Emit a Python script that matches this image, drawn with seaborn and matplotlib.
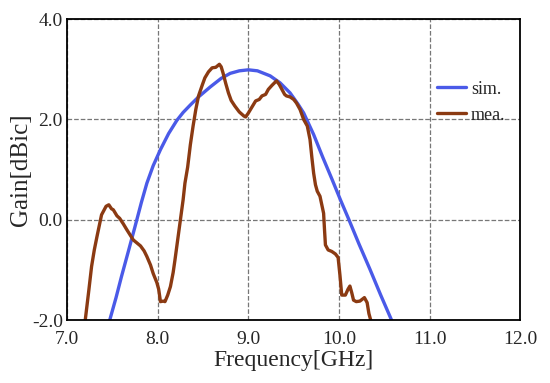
import pandas as pd
import matplotlib
matplotlib.use('Agg')
import matplotlib.pyplot as plt
import seaborn as sns

SIM_COLOR = '#4a5ae8'
MEA_COLOR = '#8b3a12'

# simulated gain
sim_freq = [7.47, 7.54, 7.60, 7.68, 7.75, 7.82, 7.88, 7.95, 8.03, 8.12, 8.21, 8.28,
            8.36, 8.45, 8.58, 8.70, 8.80, 8.90, 9.00, 9.10, 9.24, 9.35, 9.46, 9.55, 9.61,
            9.72, 9.82, 9.92, 10.02, 10.11, 10.22, 10.34, 10.46, 10.58]
sim_gain = [-2.0, -1.55, -1.13, -0.60, -0.13, 0.35, 0.73, 1.08, 1.40, 1.72, 1.98, 2.14,
            2.29, 2.45, 2.65, 2.82, 2.92, 2.97, 2.99, 2.97, 2.87, 2.73, 2.53, 2.30, 2.13,
            1.70, 1.25, 0.82, 0.38, 0.0, -0.48, -0.98, -1.50, -2.0]

# measured gain
mea_freq = [7.20, 7.24, 7.27, 7.30, 7.33, 7.38, 7.43, 7.46, 7.49, 7.51, 7.55, 7.58,
            7.62, 7.66, 7.73, 7.77, 7.81, 7.85, 7.88, 7.92, 7.95, 7.99, 8.01, 8.03,
            8.06, 8.08, 8.11, 8.14, 8.17, 8.19, 8.22, 8.25, 8.28, 8.30, 8.33, 8.36,
            8.39, 8.42, 8.45, 8.49, 8.52, 8.56, 8.60, 8.64, 8.68, 8.70, 8.72, 8.75,
            8.78, 8.81, 8.85, 8.90, 8.95, 8.97, 9.00, 9.04, 9.08, 9.12, 9.15, 9.19,
            9.22, 9.26, 9.31, 9.34, 9.37, 9.40, 9.42, 9.46, 9.50, 9.53, 9.57, 9.61,
            9.65, 9.68, 9.70, 9.72, 9.74, 9.76, 9.79, 9.81, 9.83, 9.84, 9.85, 9.88,
            9.92, 9.96, 9.99, 10.01, 10.03, 10.07, 10.10, 10.12, 10.14, 10.16, 10.19,
            10.23, 10.28, 10.31, 10.33, 10.35]
mea_gain = [-2.0, -1.4, -0.93, -0.6, -0.33, 0.10, 0.27, 0.30, 0.22, 0.20, 0.08, 0.03,
            -0.08, -0.20, -0.40, -0.46, -0.52, -0.62, -0.73, -0.90, -1.07, -1.25, -1.38, -1.63,
            -1.62, -1.63, -1.50, -1.33, -1.05, -0.80, -0.40, 0.0, 0.40, 0.73, 1.05, 1.50,
            1.87, 2.20, 2.47, 2.68, 2.83, 2.95, 3.03, 3.04, 3.10, 3.05, 2.93, 2.72,
            2.53, 2.38, 2.27, 2.15, 2.07, 2.05, 2.13, 2.25, 2.37, 2.40, 2.47, 2.50,
            2.60, 2.68, 2.77, 2.70, 2.60, 2.50, 2.47, 2.45, 2.40, 2.33, 2.20, 2.00,
            1.87, 1.60, 1.25, 0.93, 0.70, 0.57, 0.47, 0.30, 0.13, -0.20, -0.50, -0.60,
            -0.63, -0.68, -0.75, -1.10, -1.50, -1.50, -1.38, -1.32, -1.45, -1.60, -1.63,
            -1.62, -1.55, -1.65, -1.87, -2.0]

x_ticks = [7.0, 8.0, 9.0, 10.0, 11.0, 12.0]
y_ticks = [-2.0, 0.0, 2.0, 4.0]

df_sim = pd.DataFrame({'freq': sim_freq, 'gain': sim_gain})
df_mea = pd.DataFrame({'freq': mea_freq, 'gain': mea_gain})

sns.set_style('white')
plt.rcParams['font.family'] = ['Liberation Serif', 'DejaVu Serif']

fig = plt.figure(figsize=(5.5, 3.83), dpi=100)
ax = fig.add_axes([0.122, 0.164, 0.824, 0.786])

sns.lineplot(x='freq', y='gain', data=df_sim, color=SIM_COLOR, linewidth=2.4,
             label='sim.', ax=ax, sort=False)
sns.lineplot(x='freq', y='gain', data=df_mea, color=MEA_COLOR, linewidth=2.4,
             label='mea.', ax=ax, sort=False)

ax.set_xlim(7.0, 12.0)
ax.set_ylim(-2.0, 4.0)
ax.set_xticks(x_ticks)
ax.set_xticklabels([f'{t:.1f}' for t in x_ticks])
ax.set_yticks(y_ticks)
ax.set_yticklabels([f'{t:.1f}' for t in y_ticks])
ax.tick_params(length=0, labelsize=14)
ax.tick_params(axis='x', pad=8)
ax.tick_params(axis='y', pad=3)
ax.grid(True, linestyle='--', color='#777777', linewidth=0.9)
for s in ax.spines.values():
    s.set_color('black')
    s.set_linewidth(1.3)

ax.set_xlabel('Frequency[GHz]', fontsize=17, labelpad=1)
ax.set_ylabel('Gain[dBic]', fontsize=18, labelpad=0)

ax.legend(loc='upper left', bbox_to_anchor=(0.78, 0.85), frameon=False, fontsize=13,
          handlelength=1.6, handletextpad=0.3, labelspacing=0.5)

fig.savefig('out.png', dpi=100)
